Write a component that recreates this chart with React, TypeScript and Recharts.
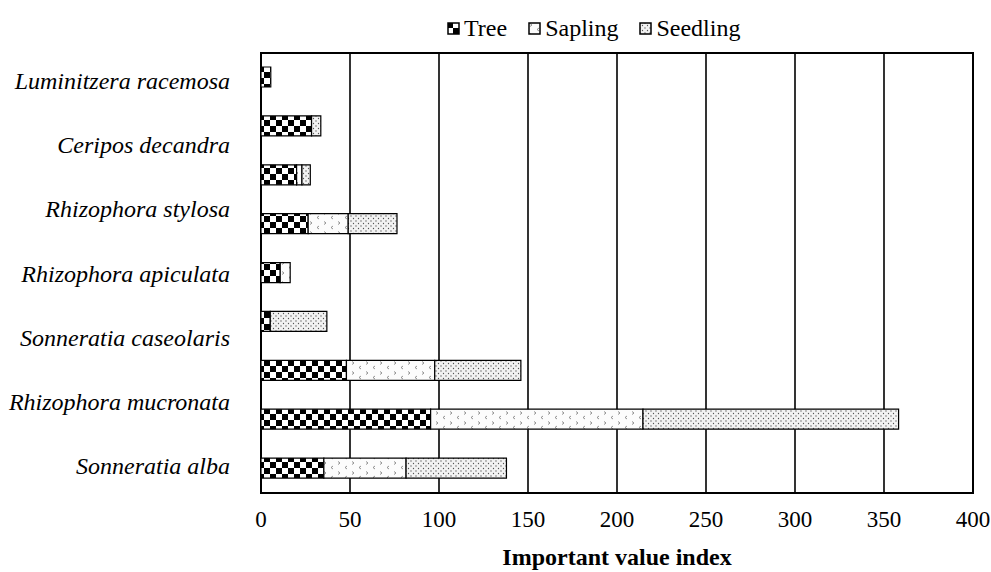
import React from 'react';
import {
  BarChart,
  Bar,
  XAxis,
  YAxis,
  CartesianGrid,
  Legend,
  ReferenceArea,
  Label
} from 'recharts';

// species labels as printed on the left axis (top to bottom)
const speciesLabels = [
  'Luminitzera racemosa',
  'Ceripos decandra',
  'Rhizophora stylosa',
  'Rhizophora apiculata',
  'Sonneratia caseolaris',
  'Rhizophora mucronata',
  'Sonneratia alba'
];

// the chart draws nine bars (top to bottom)
const rows = ['r1', 'r2', 'r3', 'r4', 'r5', 'r6', 'r7', 'r8', 'r9'];
const tree = [5.5, 28.4, 20, 26.5, 10.8, 5.2, 48, 95.3, 35.3];
const sapling = [0, 0, 3, 22.5, 5.6, 0, 49.6, 119.3, 46.2];
const seedling = [0, 5.2, 4.7, 27.4, 0, 31.8, 48.4, 143.6, 56.4];

const xTicks = [0, 50, 100, 150, 200, 250, 300, 350, 400];

const series = [
  { key: 'tree', name: 'Tree', fill: 'url(#pTree)' },
  { key: 'sapling', name: 'Sapling', fill: 'url(#pSapling)' },
  { key: 'seedling', name: 'Seedling', fill: 'url(#pSeedling)' }
];

const FONT = '"Liberation Serif", "Times New Roman", serif';

const data = rows.map((row, i) => ({
  row,
  tree: tree[i],
  sapling: sapling[i],
  seedling: seedling[i]
}));

// the 7 labels are spread evenly over the row index range, not one per bar
const labelStart = 0.5;
const labelEnd = rows.length - 1.5;
const labelTicks = speciesLabels.map(
  (_, i) => labelStart + (i * (labelEnd - labelStart)) / (speciesLabels.length - 1)
);

function Patterns() {
  return (
    <defs>
      <pattern id="pTree" width="12" height="12" patternUnits="userSpaceOnUse">
        <rect width="12" height="12" fill="#fff" />
        <rect x="0" y="0" width="6" height="6" fill="#000" />
        <rect x="6" y="6" width="6" height="6" fill="#000" />
      </pattern>
      <pattern id="pSapling" width="14" height="10" patternUnits="userSpaceOnUse">
        <rect width="14" height="10" fill="#fcfcfc" />
        <path d="M2 1.5 L4 3 L2 4.5" stroke="#777" strokeWidth="0.8" fill="none" />
        <path d="M11 6 L9 7.5 L11 9" stroke="#777" strokeWidth="0.8" fill="none" />
      </pattern>
      <pattern id="pSeedling" width="5" height="5" patternUnits="userSpaceOnUse">
        <rect width="5" height="5" fill="#f2f2f2" />
        <circle cx="1" cy="1" r="0.65" fill="#555" />
        <circle cx="3.5" cy="3.5" r="0.65" fill="#555" />
      </pattern>
    </defs>
  );
}

function LegendBox() {
  return (
    <div
      style={{
        height: 53,
        boxSizing: 'border-box',
        paddingTop: 14,
        paddingLeft: 447,
        display: 'flex',
        alignItems: 'flex-start',
        fontFamily: FONT,
        fontSize: 24,
        color: '#000',
        lineHeight: '28px'
      }}
    >
      {series.map(s => (
        <span key={s.key} style={{ display: 'flex', alignItems: 'center', marginRight: 21 }}>
          <svg width={13} height={13} style={{ marginRight: 4 }}>
            <rect x={1} y={1} width={11} height={11} fill={s.fill} stroke="#000" strokeWidth={1.5} />
          </svg>
          {s.name}
        </span>
      ))}
    </div>
  );
}

export default function App() {
  return (
    <div style={{ position: 'absolute', left: 0, top: 0, width: 991, height: 572, background: '#fff' }}>
      <BarChart
        width={991}
        height={572}
        data={data}
        layout="vertical"
        margin={{ top: 0, right: 18, bottom: 0, left: 0 }}
      >
        <Patterns />
        <Legend
          verticalAlign="top"
          content={<LegendBox />}
          wrapperStyle={{ left: 0, top: 0, width: 991, height: 53 }}
        />
        <CartesianGrid
          horizontal={false}
          stroke="#000"
          strokeWidth={1.6}
          yAxisId="cat"
        />
        <XAxis
          type="number"
          domain={[0, 400]}
          ticks={xTicks}
          interval={0}
          tickLine={false}
          axisLine={false}
          height={79}
          tickMargin={12}
          tick={{ fill: '#000', fontSize: 23, fontFamily: FONT }}
        >
          <Label
            value="Important value index"
            position="insideBottom"
            offset={7}
            style={{ fill: '#000', fontSize: 24, fontWeight: 'bold', fontFamily: FONT }}
          />
        </XAxis>
        <YAxis
          yAxisId="lab"
          type="number"
          domain={[0, rows.length - 1]}
          allowDataOverflow
          ticks={labelTicks}
          interval={0}
          tickFormatter={(v: number) => speciesLabels[labelTicks.indexOf(v)]}
          width={261}
          tickLine={false}
          axisLine={false}
          tickMargin={25}
          tick={{ fill: '#000', fontSize: 24, fontStyle: 'italic', fontFamily: FONT }}
        />
        <YAxis yAxisId="cat" type="category" dataKey="row" hide width={0} />
        <ReferenceArea
          yAxisId="cat"
          x1={0}
          x2={400}
          fill="none"
          stroke="#000"
          strokeWidth={2}
          ifOverflow="visible"
        />
        {series.map(s => (
          <Bar
            key={s.key}
            yAxisId="cat"
            dataKey={s.key}
            name={s.name}
            stackId="a"
            fill={s.fill}
            stroke="#000"
            strokeWidth={1.2}
            barSize={20}
            isAnimationActive={false}
          />
        ))}
      </BarChart>
    </div>
  );
}
